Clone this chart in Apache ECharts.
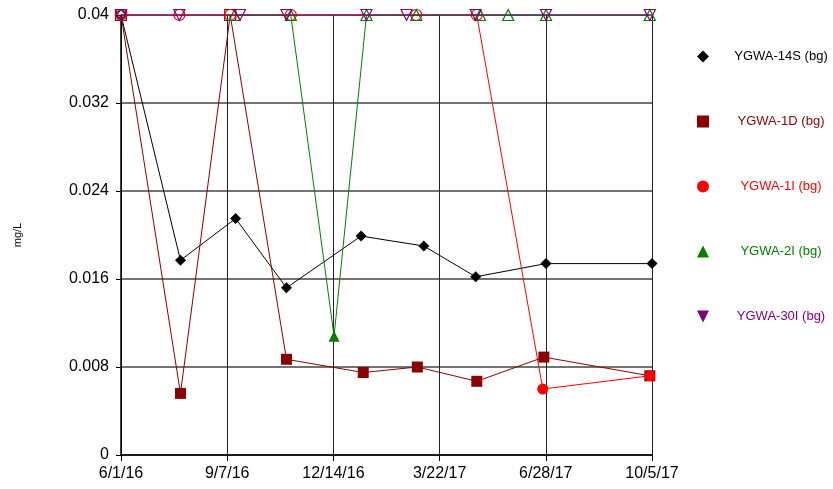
<!DOCTYPE html>
<html>
<head>
<meta charset="utf-8">
<script src="https://cdn.jsdelivr.net/npm/echarts@6/dist/echarts.min.js"></script>
<style>
html, body { margin: 0; padding: 0; background: #fff; }
#chart { width: 833px; height: 489px; }
</style>
</head>
<body>
<div id="chart"></div>
<script>
// sampling dates and results (mg/L); 0.04 = reporting limit (non-detect, hollow marker)
var startDate = '2016-06-01';
var endDate = '2017-10-05';
var xTickCount = 5;
var yTicks = [0, 0.008, 0.016, 0.024, 0.032, 0.04];
var nonDetect = 0.04;

var names = ['YGWA-14S (bg)', 'YGWA-1D (bg)', 'YGWA-1I (bg)', 'YGWA-2I (bg)', 'YGWA-30I (bg)'];
var colors = ['#000000', '#8B0000', '#FF0000', '#008000', '#800080'];

var dates14S = ['2016-06-01', '2016-07-26', '2016-09-15', '2016-11-01', '2017-01-09', '2017-03-08', '2017-04-25', '2017-06-29', '2017-10-05'];
var vals14S  = [0.04, 0.0177, 0.0215, 0.0152, 0.0199, 0.0190, 0.0162, 0.0174, 0.0174];

var dates1D = ['2016-06-01', '2016-07-26', '2016-09-10', '2016-11-01', '2017-01-11', '2017-03-02', '2017-04-26', '2017-06-27', '2017-10-03'];
var vals1D  = [0.04, 0.0056, 0.04, 0.0087, 0.0075, 0.0080, 0.0067, 0.0089, 0.0072];

var dates1I = ['2016-06-01', '2016-07-25', '2016-09-10', '2016-11-05', '2017-03-01', '2017-04-26', '2017-06-26', '2017-10-03'];
var vals1I  = [0.04, 0.04, 0.04, 0.04, 0.04, 0.04, 0.0060, 0.0072];

var dates2I = ['2016-09-14', '2016-11-05', '2016-12-15', '2017-01-14', '2017-03-01', '2017-04-29', '2017-05-25', '2017-06-29', '2017-10-03'];
var vals2I  = [0.04, 0.04, 0.0108, 0.04, 0.04, 0.04, 0.04, 0.04, 0.04];

var dates30I = ['2016-06-01', '2016-07-25', '2016-09-19', '2016-11-01', '2017-01-14', '2017-02-20', '2017-04-25', '2017-06-29', '2017-10-03'];
var vals30I  = [0.04, 0.04, 0.04, 0.04, 0.04, 0.04, 0.04, 0.04, 0.04];

var allDates = [dates14S, dates1D, dates1I, dates2I, dates30I];
var allVals = [vals14S, vals1D, vals1I, vals2I, vals30I];

var downTri = 'path://M0,0 L10,0 L5,10 Z';
var symbols = ['diamond', 'rect', 'circle', 'triangle', downTri];
var symbolSizes = [11, 11, 11, 11, 11];

function toUTC(s) {
    var p = s.split('-');
    return Date.UTC(+p[0], +p[1] - 1, +p[2]);
}
var DAY = 86400000;
var t0 = toUTC(startDate);
function dayOf(s) { return Math.round((toUTC(s) - t0) / DAY); }
function fmtDay(d) {
    var dt = new Date(t0 + Math.floor(d + 1e-6) * DAY);
    return (dt.getUTCMonth() + 1) + '/' + dt.getUTCDate() + '/' + String(dt.getUTCFullYear()).slice(2);
}
var lastDay = dayOf(endDate);

var series = names.map(function (name, i) {
    return {
        name: name,
        type: 'line',
        symbol: symbols[i],
        symbolSize: symbolSizes[i],
        lineStyle: { color: colors[i], width: 1 },
        itemStyle: { color: colors[i] },
        z: 2 + i,
        data: allDates[i].map(function (d, j) {
            var v = allVals[i][j];
            var item = { value: [dayOf(d), v] };
            if (v === nonDetect) {
                item.itemStyle = { color: 'rgba(255,255,255,0)', borderColor: colors[i], borderWidth: 1.2 };
            }
            return item;
        })
    };
});

var chart = echarts.init(document.getElementById('chart'));
var option = {
    animation: false,
    textStyle: { fontFamily: 'Liberation Sans, Arial, sans-serif' },
    grid: { left: 121, right: 181, top: 15, bottom: 34, containLabel: false },
    xAxis: {
        type: 'value',
        min: 0,
        max: lastDay,
        interval: lastDay / xTickCount,
        axisLine: { lineStyle: { color: '#000', width: 1.5 } },
        axisTick: { show: true, length: 6, lineStyle: { color: '#000' } },
        axisLabel: {
            color: '#000', fontSize: 16, margin: 11,
            formatter: function (v) { return fmtDay(v); }
        },
        splitLine: { show: true, lineStyle: { color: '#222', width: 1 } }
    },
    yAxis: {
        type: 'value',
        min: yTicks[0],
        max: yTicks[yTicks.length - 1],
        interval: yTicks[1] - yTicks[0],
        name: 'mg/L',
        nameLocation: 'middle',
        nameGap: 98,
        nameTextStyle: { color: '#000', fontSize: 11 },
        axisLine: { show: true, lineStyle: { color: '#000', width: 1.5 } },
        axisTick: { show: true, length: 5, lineStyle: { color: '#000' } },
        axisLabel: {
            color: '#000', fontSize: 16, margin: 12,
            formatter: function (v) { return String(+v.toFixed(3)); }
        },
        splitLine: { show: true, lineStyle: { color: '#444', width: 1.5 } }
    },
    legend: {
        orient: 'vertical',
        left: 692,
        top: 45,
        itemWidth: 12,
        itemHeight: 12,
        itemGap: 52,
        selectedMode: false,
        formatter: function (n) { return '{a|' + n + '}'; },
        textStyle: {
            fontSize: 13,
            rich: { a: { width: 134, align: 'center', fontSize: 13, lineHeight: 14 } }
        },
        data: names.map(function (n, i) {
            return {
                name: n,
                icon: symbols[i],
                itemStyle: { color: colors[i] },
                textStyle: { color: colors[i] }
            };
        })
    },
    series: series
};
chart.setOption(option);
window.addEventListener('resize', function () {
    chart.resize();
});
</script>
</body>
</html>
